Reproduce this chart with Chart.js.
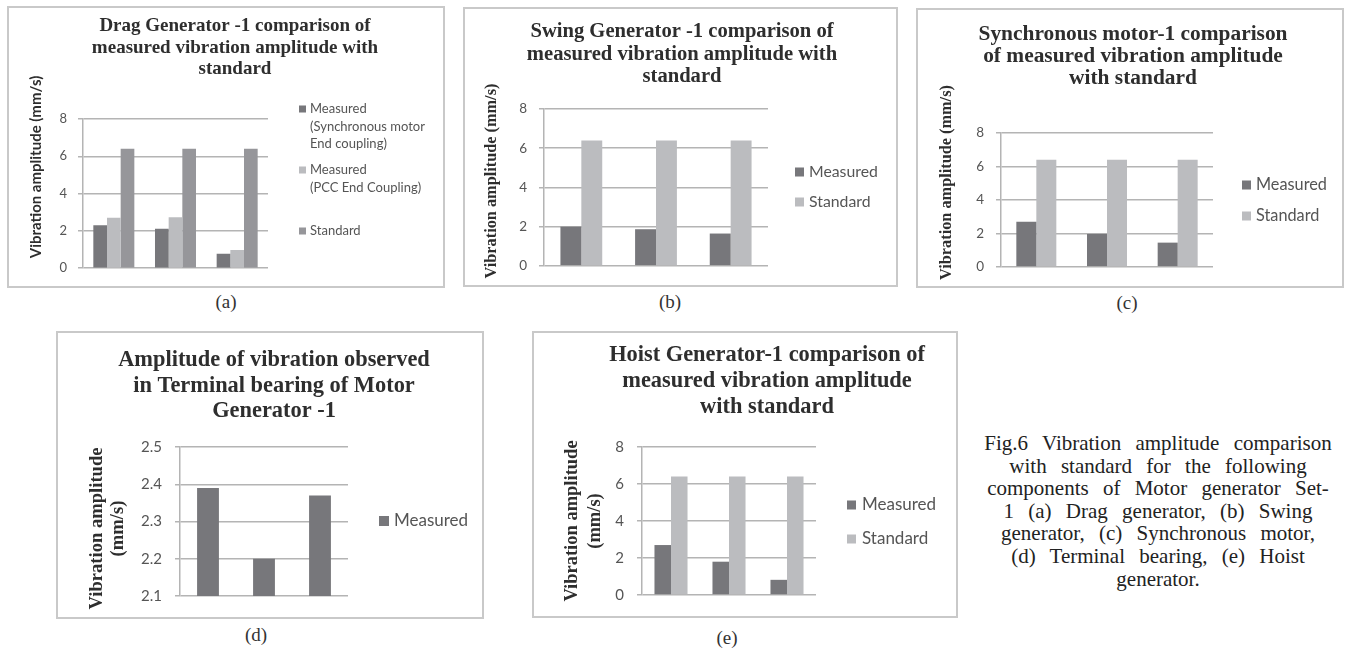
<!DOCTYPE html>
<html>
<head>
<meta charset="utf-8">
<script src="https://cdn.jsdelivr.net/npm/chart.js@4.4.1/dist/chart.umd.min.js"></script>
<style>
  html, body { margin: 0; padding: 0; background: #fff; }
  body { width: 1346px; height: 648px; position: relative; overflow: hidden; }
  .box { position: absolute; box-sizing: border-box; border: 2px solid #c9c9c9; }
  canvas { position: absolute; }
  .cap { position: absolute; width: 60px; height: 20px; line-height: 20px; text-align: center;
         font-family: "Liberation Serif", "Times New Roman", serif; font-size: 19px; color: #333; }
  #figcap { position: absolute; left: 970px; top: 432px; width: 376px; text-align: center;
            font-family: "Liberation Serif", "Times New Roman", serif; font-size: 21px; line-height: 22.6px;
            word-spacing: 9px; color: #222; }
</style>
</head>
<body>
<div class="box" style="left:7px;top:6px;width:438px;height:282px"></div>
<canvas id="chartA" width="436" height="280" style="left:8px;top:7px"></canvas>
<div class="cap" style="left:196px;top:292px">(a)</div>

<div class="box" style="left:463px;top:7px;width:435px;height:280px"></div>
<canvas id="chartB" width="433" height="278" style="left:464px;top:8px"></canvas>
<div class="cap" style="left:640px;top:292px">(b)</div>

<div class="box" style="left:916px;top:8px;width:428px;height:280px"></div>
<canvas id="chartC" width="426" height="278" style="left:917px;top:9px"></canvas>
<div class="cap" style="left:1097px;top:293px">(c)</div>

<div class="box" style="left:56px;top:331px;width:428px;height:288px"></div>
<canvas id="chartD" width="426" height="286" style="left:57px;top:332px"></canvas>
<div class="cap" style="left:226px;top:625px">(d)</div>

<div class="box" style="left:532px;top:331px;width:426px;height:287px"></div>
<canvas id="chartE" width="424" height="285" style="left:533px;top:332px"></canvas>
<div class="cap" style="left:697px;top:628px">(e)</div>

<div id="figcap">Fig.6 Vibration amplitude comparison<br>with standard for the following<br>components of Motor generator Set-<br>1 (a) Drag generator, (b) Swing<br>generator, (c) Synchronous motor,<br>(d) Terminal bearing, (e) Hoist<br>generator.</div>

<script>
// three measuring points per machine (no x labels are printed in the figure)
const points = ['Point 1', 'Point 2', 'Point 3'];

// (a) drag generator
const dragSync = [2.3, 2.12, 0.77];
const dragPcc = [2.7, 2.73, 0.97];
const dragStd = [6.4, 6.4, 6.4];
// (b) swing generator
const swingMeasured = [2.0, 1.87, 1.65];
const swingStd = [6.4, 6.4, 6.4];
// (c) synchronous motor
const syncMeasured = [2.7, 1.97, 1.45];
const syncStd = [6.4, 6.4, 6.4];
// (d) terminal bearing
const terminalMeasured = [2.39, 2.2, 2.37];
// (e) hoist generator
const hoistMeasured = [2.7, 1.8, 0.82];
const hoistStd = [6.4, 6.4, 6.4];

const ampTicks = [0, 2, 4, 6, 8];
const terminalTicks = [2.1, 2.2, 2.3, 2.4, 2.5];

const dark = '#77777b';
const light = '#bbbcbf';
const mid = '#96969a';
const gridGray = '#b4b4b4';

Chart.defaults.font.family = 'Lato';

// titles, rotated axis title and the side legend are drawn here
const panelText = {
    id: 'panelText',
    afterDraw(chart, args, o) {
        const ctx = chart.ctx;
        ctx.save();
        ctx.textAlign = 'center';
        ctx.textBaseline = 'middle';
        ctx.fillStyle = '#2e2e2e';
        ctx.font = 'bold ' + o.titleSize + 'px "Liberation Serif"';
        o.title.forEach((line, i) => ctx.fillText(line, o.titleX, o.titleY + i * o.titleStep));

        ctx.save();
        ctx.translate(o.yTitleX, o.yTitleY);
        ctx.rotate(-Math.PI / 2);
        ctx.font = o.yTitleFont;
        o.yTitle.forEach((line, i) => ctx.fillText(line, 0, i * o.yTitleStep));
        ctx.restore();

        ctx.textAlign = 'left';
        ctx.font = o.legendSize + 'px Lato';
        chart.data.datasets.forEach((ds, i) => {
            const y = o.legendY[i];
            ctx.fillStyle = ds.backgroundColor;
            ctx.fillRect(o.legendX, y - o.box / 2, o.box, o.box);
            ctx.fillStyle = '#555';
            ds.label.split('\n').forEach((line, j) => {
                ctx.fillText(line, o.legendX + o.box + o.legendGap, y + j * o.legendStep);
            });
        });
        ctx.restore();
    }
};

function barChart(id, datasets, p) {
    return new Chart(document.getElementById(id), {
        type: 'bar',
        data: { labels: points, datasets: datasets },
        options: {
            responsive: false,
            animation: false,
            devicePixelRatio: 1,
            layout: { padding: p.pad },
            datasets: { bar: { categoryPercentage: p.groupWidth, barPercentage: 1, borderWidth: 0 } },
            scales: {
                x: { display: false },
                y: {
                    min: p.ticks[0],
                    max: p.ticks[p.ticks.length - 1],
                    afterFit: s => { s.width = p.axisWidth; },
                    afterBuildTicks: s => { s.ticks = p.ticks.map(v => ({ value: v })); },
                    grid: { color: gridGray, lineWidth: 1.5, tickLength: 5 },
                    border: { color: gridGray, width: 1.5 },
                    ticks: {
                        padding: p.tickPad,
                        color: '#555',
                        font: { size: p.tickSize },
                        callback: v => v.toFixed(p.decimals)
                    }
                }
            },
            plugins: {
                legend: { display: false },
                tooltip: { enabled: false },
                panelText: p.text
            }
        },
        plugins: [panelText]
    });
}

barChart('chartA', [
    { label: 'Measured\n(Synchronous motor\nEnd coupling)', data: dragSync, backgroundColor: dark },
    { label: 'Measured\n(PCC End Coupling)', data: dragPcc, backgroundColor: light },
    { label: 'Standard', data: dragStd, backgroundColor: mid }
], {
    pad: { left: 0, right: 176, top: 112, bottom: 17 },
    axisWidth: 75, groupWidth: 0.665, ticks: ampTicks, tickPad: 11, tickSize: 13, decimals: 0,
    text: {
        title: ['Drag Generator -1 comparison of', 'measured vibration amplitude with', 'standard'],
        titleSize: 19, titleX: 227, titleY: 19, titleStep: 21.7,
        yTitle: ['Vibration amplitude (mm/s)'], yTitleFont: 'bold 15px Lato',
        yTitleX: 28, yTitleY: 160, yTitleStep: 0,
        legendX: 291, box: 7, legendGap: 4, legendSize: 13, legendStep: 17.5,
        legendY: [102, 163, 224]
    }
});

barChart('chartB', [
    { label: 'Measured', data: swingMeasured, backgroundColor: dark },
    { label: 'Standard', data: swingStd, backgroundColor: light }
], {
    pad: { left: 0, right: 129, top: 101, bottom: 19 },
    axisWidth: 80, groupWidth: 0.56, ticks: ampTicks, tickPad: 12, tickSize: 13.5, decimals: 0,
    text: {
        title: ['Swing Generator -1 comparison of', 'measured vibration amplitude with', 'standard'],
        titleSize: 20.6, titleX: 218, titleY: 24, titleStep: 22.4,
        yTitle: ['Vibration amplitude (mm/s)'], yTitleFont: 'bold 16.3px "Liberation Serif"',
        yTitleX: 28, yTitleY: 173, yTitleStep: 0,
        legendX: 331, box: 9, legendGap: 5, legendSize: 15.8, legendStep: 0,
        legendY: [164, 194]
    }
});

barChart('chartC', [
    { label: 'Measured', data: syncMeasured, backgroundColor: dark },
    { label: 'Standard', data: syncStd, backgroundColor: light }
], {
    pad: { left: 0, right: 130, top: 124, bottom: 19 },
    axisWidth: 84, groupWidth: 0.566, ticks: ampTicks, tickPad: 12, tickSize: 13.5, decimals: 0,
    text: {
        title: ['Synchronous motor-1 comparison', 'of measured vibration amplitude', 'with standard'],
        titleSize: 21.4, titleX: 216, titleY: 25.5, titleStep: 22.2,
        yTitle: ['Vibration amplitude (mm/s)'], yTitleFont: 'bold 16.3px "Liberation Serif"',
        yTitleX: 30, yTitleY: 173.5, yTitleStep: 0,
        legendX: 325, box: 9, legendGap: 5, legendSize: 16.3, legendStep: 0,
        legendY: [176, 207]
    }
});

barChart('chartD', [
    { label: 'Measured', data: terminalMeasured, backgroundColor: dark }
], {
    pad: { left: 0, right: 135, top: 115, bottom: 22 },
    axisWidth: 123, groupWidth: 0.39, ticks: terminalTicks, tickPad: 13, tickSize: 15, decimals: 1,
    text: {
        title: ['Amplitude of vibration observed', 'in Terminal bearing of Motor', 'Generator -1'],
        titleSize: 22.4, titleX: 217, titleY: 28, titleStep: 25.8,
        yTitle: ['Vibration amplitude', '(mm/s)'], yTitleFont: 'bold 18.6px "Liberation Serif"',
        yTitleX: 40, yTitleY: 196.5, yTitleStep: 21,
        legendX: 322, box: 10, legendGap: 5, legendSize: 17, legendStep: 0,
        legendY: [189]
    }
});

barChart('chartE', [
    { label: 'Measured', data: hoistMeasured, backgroundColor: dark },
    { label: 'Standard', data: hoistStd, backgroundColor: light }
], {
    pad: { left: 0, right: 141, top: 115, bottom: 20 },
    axisWidth: 109, groupWidth: 0.57, ticks: ampTicks, tickPad: 13, tickSize: 15, decimals: 0,
    text: {
        title: ['Hoist Generator-1 comparison of', 'measured vibration amplitude', 'with standard'],
        titleSize: 22.4, titleX: 234, titleY: 23.5, titleStep: 25.8,
        yTitle: ['Vibration amplitude', '(mm/s)'], yTitleFont: 'bold 18.5px "Liberation Serif"',
        yTitleX: 39, yTitleY: 189, yTitleStep: 23,
        legendX: 314, box: 9, legendGap: 6, legendSize: 17, legendStep: 0,
        legendY: [173, 207]
    }
});
</script>
</body>
</html>
